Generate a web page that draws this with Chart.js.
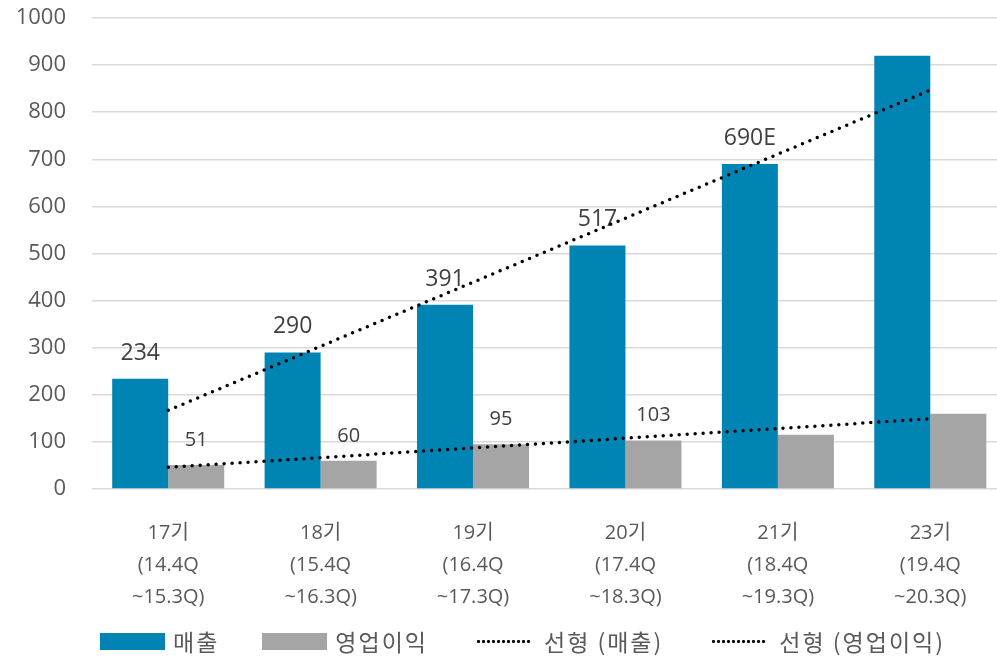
<!DOCTYPE html>
<html>
<head>
<meta charset="utf-8">
<script src="https://cdn.jsdelivr.net/npm/chart.js@4.4.1/dist/chart.umd.min.js"></script>
<style>
  html, body { margin: 0; padding: 0; background: #fff; overflow: hidden; }
  #wrap { position: relative; width: 1010px; height: 660px; }
  #legend {
    position: absolute; left: 100px; top: 626px; height: 30px;
    display: flex; align-items: center; gap: 43px;
    font-family: 'Noto Sans CJK KR', 'Open Sans', sans-serif; font-size: 23px; color: #595959;
    letter-spacing: 2px;
  }
  #legend .item { display: flex; align-items: center; gap: 8px; white-space: nowrap; }
  #legend .box { width: 65px; height: 17px; }
  #legend .dots {
    width: 56px; height: 5px; margin: 0 4px 0 5px;
    background-image: radial-gradient(circle, #000 1.3px, transparent 1.7px);
    background-size: 5px 5px;
  }
</style>
</head>
<body>
<div id="wrap">
  <canvas id="salesChart" width="1010" height="660"></canvas>
  <div id="legend"></div>
</div>
<script>
  // data
  const periods = [
    ['17기', '(14.4Q', '~15.3Q)'],
    ['18기', '(15.4Q', '~16.3Q)'],
    ['19기', '(16.4Q', '~17.3Q)'],
    ['20기', '(17.4Q', '~18.3Q)'],
    ['21기', '(18.4Q', '~19.3Q)'],
    ['23기', '(19.4Q', '~20.3Q)']
  ];
  const sales = [234, 290, 391, 517, 690, 920];
  const profit = [51, 60, 95, 103, 115, 160];
  const salesLabels = ['234', '290', '391', '517', '690E', ''];
  const profitLabels = ['51', '60', '95', '103', '', ''];
  // linear trend end points (Excel trendline)
  const salesTrend = [167, null, null, null, null, 847];
  const profitTrend = [46, null, null, null, null, 149];
  const yTicks = [0, 100, 200, 300, 400, 500, 600, 700, 800, 900, 1000];

  const FONT = "'Open Sans', 'Noto Sans CJK KR', sans-serif";

  // value labels on bars, drawn before the trend lines
  const barLabels = {
    id: 'barLabels',
    afterDatasetDraw(chart, args) {
      const ds = chart.data.datasets[args.index];
      if (!ds.valueLabels) return;
      const ctx = chart.ctx;
      ctx.save();
      ctx.fillStyle = '#404040';
      ctx.font = ds.labelFont;
      ctx.textAlign = 'center';
      ctx.textBaseline = 'alphabetic';
      args.meta.data.forEach((bar, i) => {
        const txt = ds.valueLabels[i];
        if (!txt) return;
        ctx.fillText(txt, bar.x, bar.y - 19);
      });
      ctx.restore();
    }
  };

  const chart = new Chart(document.getElementById('salesChart'), {
    data: {
      labels: periods,
      datasets: [
        {
          type: 'bar',
          label: '매출',
          data: sales,
          backgroundColor: '#0084B4',
          borderWidth: 0,
          order: 1,
          valueLabels: salesLabels,
          labelFont: '23px ' + FONT
        },
        {
          type: 'bar',
          label: '영업이익',
          data: profit,
          backgroundColor: '#A5A5A5',
          borderWidth: 0,
          order: 1,
          valueLabels: profitLabels,
          labelFont: '20px ' + FONT
        },
        {
          type: 'line',
          label: '선형 (매출)',
          data: salesTrend,
          borderColor: '#000',
          borderWidth: 3.5,
          borderDash: [0, 8],
          borderCapStyle: 'round',
          pointRadius: 0,
          spanGaps: true,
          fill: false,
          order: 0
        },
        {
          type: 'line',
          label: '선형 (영업이익)',
          data: profitTrend,
          borderColor: '#000',
          borderWidth: 3.5,
          borderDash: [0, 8],
          borderCapStyle: 'round',
          pointRadius: 0,
          spanGaps: true,
          fill: false,
          order: 0
        }
      ]
    },
    options: {
      responsive: false,
      animation: false,
      devicePixelRatio: 1,
      layout: { padding: { top: 18, right: 3.5, left: 0, bottom: 43 } },
      datasets: {
        bar: { categoryPercentage: 0.735, barPercentage: 1.0 }
      },
      scales: {
        x: {
          grid: { display: false },
          border: { display: false },
          ticks: {
            color: '#595959',
            font: { family: FONT, size: 20, lineHeight: 1.6 },
            padding: 20,
            maxRotation: 0,
            autoSkip: false
          },
          afterFit(scale) { scale.height = 128; }
        },
        y: {
          min: 0,
          max: 1000,
          afterBuildTicks(scale) { scale.ticks = yTicks.map(v => ({ value: v })); },
          grid: { color: '#D9D9D9', lineWidth: 1.5, drawTicks: false },
          border: { display: false },
          ticks: {
            color: '#595959',
            font: { family: FONT, size: 22 },
            padding: 26,
            callback: v => String(v)
          },
          afterFit(scale) {
            scale.width = 92;
            scale.paddingTop = 0;
            scale.paddingBottom = 0;
          }
        }
      },
      plugins: {
        tooltip: { enabled: false },
        legend: { display: false }
      }
    },
    plugins: [barLabels]
  });

  // html legend from the chart's datasets
  const legendEl = document.getElementById('legend');
  chart.data.datasets.forEach(ds => {
    const item = document.createElement('div');
    item.className = 'item';
    const mark = document.createElement('span');
    if (ds.type === 'bar') {
      mark.className = 'box';
      mark.style.background = ds.backgroundColor;
    } else {
      mark.className = 'dots';
    }
    const txt = document.createElement('span');
    txt.textContent = ds.label;
    item.appendChild(mark);
    item.appendChild(txt);
    legendEl.appendChild(item);
  });
</script>
</body>
</html>
